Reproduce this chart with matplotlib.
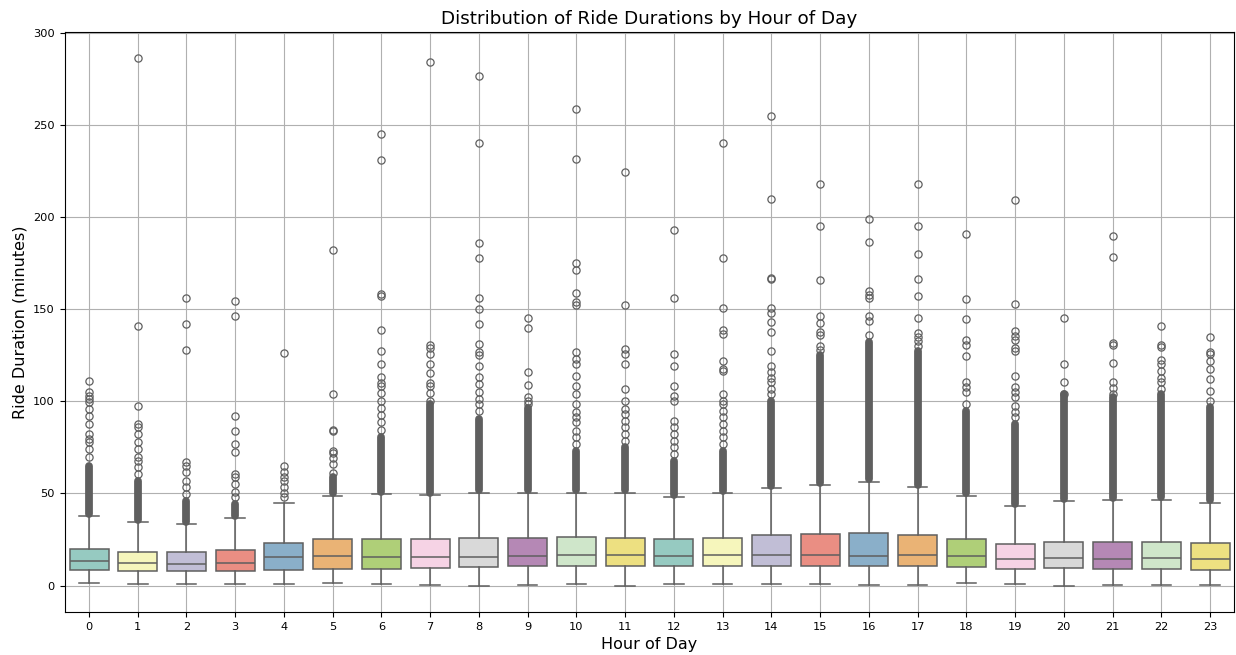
import matplotlib
matplotlib.use("Agg")
import matplotlib.pyplot as plt
import seaborn as sns

# ---------------- data ----------------
hours = list(range(24))

whislo = [1.4, 0.9, 0.9, 0.9, 0.9, 1.4, 0.9, 0.5, 0.0, 0.5, 0.9, 0.0,
          0.9, 0.9, 0.9, 0.9, 0.5, 0.5, 1.4, 0.9, 0.0, 0.5, 0.5, 0.5]
q1 = [8.3, 7.8, 7.8, 7.8, 8.7, 9.1, 9.1, 9.6, 10.0, 10.5, 10.5, 10.5,
      10.5, 10.5, 10.5, 10.5, 10.5, 10.5, 10.0, 9.1, 9.6, 9.1, 9.1, 8.7]
med = [13.2, 12.3, 11.8, 12.3, 15.4, 16.3, 15.4, 15.4, 15.8, 16.3, 16.8, 16.8,
       16.3, 16.8, 16.8, 16.8, 16.3, 16.8, 16.3, 14.5, 15.0, 14.5, 15.0, 14.5]
q3 = [19.9, 18.5, 18.1, 19.4, 23.0, 25.2, 25.2, 25.2, 26.1, 26.1, 26.6, 26.1,
      25.2, 26.1, 27.5, 28.1, 28.8, 27.5, 25.2, 22.8, 23.9, 23.9, 23.9, 23.0]
whishi = [37.7, 34.4, 33.3, 36.8, 44.9, 48.9, 49.6, 49.3, 50.5, 50.5, 50.5, 50.5,
          48.0, 50.0, 52.9, 54.5, 56.5, 53.6, 48.9, 43.1, 45.7, 46.2, 46.7, 45.1]

# top of the solid run of overlapping outlier circles above each upper whisker
band_top = [65.0, 57.0, 46.0, 44.3, 46.0, 59.0, 80.8, 98.4, 90.6, 96.5, 73.2, 75.0,
            67.8, 73.2, 100.4, 125.0, 132.0, 127.5, 94.9, 87.7, 104.0, 102.2, 104.0, 96.8]

# individually visible outliers above the solid run
outliers = [
    [69.6, 74.1, 77.8, 79.6, 82.3, 87.7, 92.2, 95.9, 99.5, 101.5, 103, 104.9, 111.2],
    [60.6, 64.2, 67.8, 70, 74.1, 77.8, 82.3, 85.9, 87.7, 97.6, 140.6, 286],
    [49.7, 53.3, 57, 61.5, 65.1, 66.9, 128, 142, 156],
    [47.9, 50.6, 55.2, 58.8, 60.6, 72.3, 76.9, 84.1, 92.2, 146, 154.5],
    [47.9, 50.5, 53.3, 57, 58.8, 61.5, 65.1, 126.3],
    [61, 66, 69, 72, 73.3, 83.7, 84.2, 104, 181.9],
    [84.7, 88.6, 92.5, 96.5, 100.4, 104.3, 108.2, 110.2, 113.1, 120, 127.3, 138.6,
     157.3, 158.2, 231, 245],
    [100.4, 104.3, 108.2, 110.2, 115.1, 120, 125.9, 128.8, 130.8, 283.9],
    [94.5, 98.4, 101.4, 105.3, 109.2, 113.1, 119, 124.9, 126.5, 131, 142, 149.8, 156,
     177.5, 185.9, 240, 276.4],
    [98.4, 100.4, 102.4, 108.8, 116, 139.7, 145.3],
    [76.9, 80.5, 84.1, 88.6, 91.3, 94, 98.6, 104, 108.5, 113.9, 120.3, 123, 126.6,
     152, 154, 158.9, 171.4, 175.2, 231.5, 258.5],
    [78.7, 82.3, 85.9, 89.5, 93.1, 95.9, 100.4, 106.7, 120.3, 125.7, 128.4, 152, 224.3],
    [71.4, 75, 78.7, 82.3, 85.9, 89.5, 100.4, 103, 108.5, 119.4, 125.7, 156, 193.1],
    [76.9, 80.5, 84.1, 87.7, 91.3, 94.9, 98.6, 100.4, 104, 116.6, 117.6, 122, 136.6,
     138.8, 150.5, 178, 240],
    [104, 106.7, 110.3, 112.9, 115.8, 119.4, 127.5, 137.5, 143, 147.8, 150.7, 166.3,
     166.7, 209.8, 254.5],
    [128, 130, 135.7, 137.5, 142.6, 146.2, 165.6, 195.3, 217.9],
    [136, 143.8, 146.5, 156, 157.5, 159.6, 186.2, 198.9],
    [130, 132.5, 134.8, 137, 145.3, 156.9, 166.3, 179.9, 195.3, 217.6],
    [98.6, 104.9, 107.6, 110.3, 124.8, 130.3, 133, 144.6, 155.6, 190.8],
    [91.3, 94, 97.6, 102.2, 104.9, 107.6, 113.9, 127.5, 128.8, 133, 135.5, 138.4,
     152.9, 209.2],
    [104, 110.3, 120.3, 145.3],
    [104, 107, 110.3, 120.7, 130.8, 131.5, 178.1, 189.9],
    [106.7, 110.3, 112.9, 116.6, 120.3, 122.6, 129.3, 130.3, 140.6],
    [100.4, 105.4, 111.9, 117.6, 122, 125.7, 126.6, 134.8],
]

title = "Distribution of Ride Durations by Hour of Day"
xlabel = "Hour of Day"
ylabel = "Ride Duration (minutes)"

# ---------------- plot ----------------
fig = plt.figure(figsize=(12.36, 6.55), dpi=100)
ax = fig.add_axes([0.0523, 0.0656, 0.9464, 0.8855])

palette = sns.color_palette("Set3", 12, desat=0.75)
colors = [palette[h % 12] for h in hours]
gray = (0.372, 0.372, 0.372)
lw = 1.1

stats = []
for i in range(len(hours)):
    stats.append(dict(med=med[i], q1=q1[i], q3=q3[i], whislo=whislo[i],
                      whishi=whishi[i], fliers=outliers[i], label=str(hours[i])))

res = ax.bxp(stats, positions=hours, widths=0.8, capwidths=0.4,
             patch_artist=True, showfliers=True,
             boxprops=dict(edgecolor=gray, linewidth=lw),
             medianprops=dict(color=gray, linewidth=lw),
             whiskerprops=dict(color=gray, linewidth=lw),
             capprops=dict(color=gray, linewidth=lw),
             flierprops=dict(marker="o", markersize=5.2, markerfacecolor="none",
                             markeredgecolor=gray, markeredgewidth=0.9))
for patch, c in zip(res["boxes"], colors):
    patch.set_facecolor(c)

# solid run of overlapping outlier circles
band_lo = [w + 1.2 for w in whishi]
ax.vlines(hours, band_lo, band_top, colors=[gray], linewidth=5.6,
          capstyle="round", zorder=2)

ax.set_xlim(-0.5, 23.5)
ax.set_ylim(-14.3, 300.3)
ax.set_xticks(hours)
ax.set_xticklabels([str(h) for h in hours])
ax.set_yticks([0, 50, 100, 150, 200, 250, 300])
ax.tick_params(labelsize=8.2)
ax.grid(True)
ax.set_axisbelow(True)

ax.set_title(title, fontsize=13.2)
ax.set_xlabel(xlabel, fontsize=11.5)
ax.set_ylabel(ylabel, fontsize=11.5)

fig.savefig("out.png", dpi=100)
